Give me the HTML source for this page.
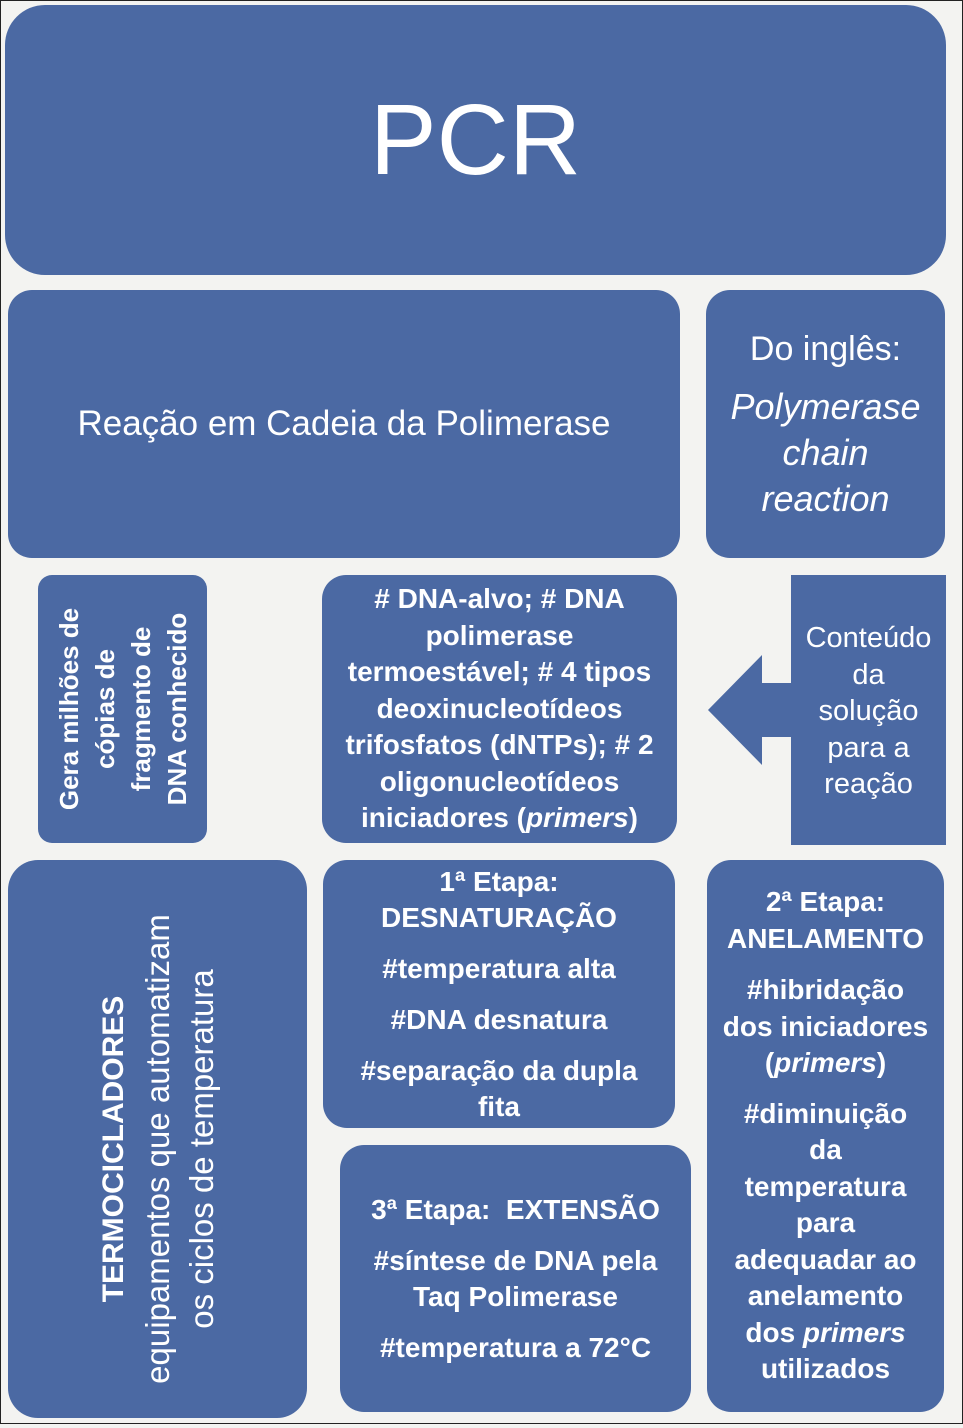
<!DOCTYPE html>
<html><head><meta charset="utf-8"><style>
body{margin:0;width:963px;height:1424px;background:#f3f3f1;position:relative;overflow:hidden;font-family:"Liberation Sans",sans-serif;color:#fff}
.frame{position:absolute;left:0;top:0;width:961px;height:1422px;border:1px solid #222}
.b{position:absolute;background:#4b69a3;border-radius:24px;display:flex;align-items:center;justify-content:center;text-align:center;box-sizing:border-box;white-space:nowrap}
.bold{font-weight:bold}
.rot{position:absolute;transform:rotate(-90deg);text-align:center;font-weight:bold;display:flex;flex-direction:column;justify-content:center;white-space:nowrap}
p{margin:0}
</style></head><body>
<div class="frame"></div>
<div class="b" style="left:5px;top:5px;width:941px;height:270px;border-radius:40px;font-size:100px">PCR</div>
<div class="b" style="left:8px;top:290px;width:672px;height:268px;font-size:35px">Reação em Cadeia da Polimerase</div>
<div class="b" style="left:706px;top:290px;width:239px;height:268px;font-size:34px;line-height:46px;flex-direction:column"><p>Do inglês:</p><p style="font-style:italic;margin-top:12px;font-size:36px">Polymerase<br>chain<br>reaction</p></div>
<div class="b" style="left:38px;top:575px;width:169px;height:268px;border-radius:14px"></div>
<div class="rot" style="left:-11.5px;top:637px;width:268px;height:144px;font-size:26px;line-height:36px">Gera milhões de<br>cópias de<br>fragmento de<br>DNA conhecido</div>
<div class="b bold" style="left:322px;top:575px;width:355px;height:268px;font-size:28px;line-height:36.5px">
<p># DNA-alvo; # DNA<br>polimerase<br>termoestável; # 4 tipos<br>deoxinucleotídeos<br>trifosfatos (dNTPs); # 2<br>oligonucleotídeos<br>iniciadores (<i>primers</i>)</p></div>
<svg style="position:absolute;left:0;top:0" width="963" height="1424"><polygon points="791,575 946,575 946,845 791,845 791,737 762,737 762,765 708,710 762,655 762,683 791,683" fill="#4b69a3"/></svg>
<div style="position:absolute;left:791px;top:620px;width:155px;text-align:center;font-size:29px;line-height:36.5px">Conteúdo<br>da<br>solução<br>para a<br>reação</div>
<div class="b" style="left:8px;top:860px;width:299px;height:558px;border-radius:30px"></div>
<div class="rot" style="left:-121.5px;top:1086px;width:558px;height:126px;font-size:33px;line-height:44px"><span style="font-size:30px">TERMOCICLADORES</span><span style="font-weight:normal">equipamentos que automatizam<br>os ciclos de temperatura</span></div>
<div class="b bold" style="left:323px;top:860px;width:352px;height:268px;font-size:28px;line-height:36px;flex-direction:column">
<p>1ª Etapa:<br>DESNATURAÇÃO</p><p style="margin-top:15px">#temperatura alta</p><p style="margin-top:15px">#DNA desnatura</p><p style="margin-top:15px">#separação da dupla<br>fita</p></div>
<div class="b bold" style="left:340px;top:1145px;width:351px;height:267px;font-size:28px;line-height:36px;flex-direction:column">
<p>3ª Etapa:&nbsp; EXTENSÃO</p><p style="margin-top:15px">#síntese de DNA pela<br>Taq Polimerase</p><p style="margin-top:15px">#temperatura a 72°C</p></div>
<div class="b bold" style="left:707px;top:860px;width:237px;height:552px;font-size:28px;line-height:36.5px;flex-direction:column;padding:0 2px">
<p>2ª Etapa:<br>ANELAMENTO</p><p style="margin-top:15px">#hibridação<br>dos iniciadores<br>(<i>primers</i>)</p><p style="margin-top:14px">#diminuição<br>da<br>temperatura<br>para<br>adequadar ao<br>anelamento<br>dos <i>primers</i><br>utilizados</p></div>
</body></html>
